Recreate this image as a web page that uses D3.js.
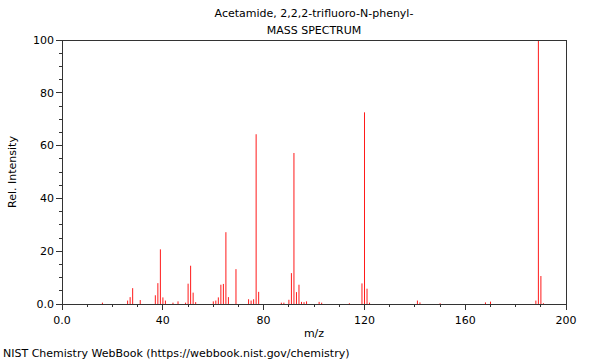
<!DOCTYPE html>
<html><head><meta charset="utf-8">
<script src="https://cdn.jsdelivr.net/npm/d3@7"></script>
<style>
body{margin:0;background:#fff;}
svg{display:block;font-family:"DejaVu Sans",sans-serif;}
</style></head>
<body>
<svg id="c" width="600" height="360"></svg>
<script>
const titleLines = ["Acetamide, 2,2,2-trifluoro-N-phenyl-", "MASS SPECTRUM"];
const xLabel = "m/z";
const yLabel = "Rel. Intensity";
const footer = "NIST Chemistry WebBook (https://webbook.nist.gov/chemistry)";
const mz =        [16, 26, 27, 28, 31, 37, 38, 39, 40, 41, 44, 46, 49, 50, 51, 52, 53, 60, 61, 62, 63, 64, 65, 66, 69, 74, 75, 76, 77, 78, 87, 88, 90, 91, 92, 93, 94, 95, 96, 97, 102, 103, 114, 119, 120, 121, 122, 141, 142, 150, 168, 170, 188, 189, 190, 191];
const intensity = [0.5,1.3,2.6,6.0,1.5,3.3,7.9,20.7,2.5,1.3,0.5,1.0,0.5,7.7,14.5,4.3,0.7,1.0,1.3,2.5,7.3,7.6,27.2,2.6,13.2,1.8,1.3,1.8,64.3,4.6,0.5,0.5,1.6,11.7,57.2,4.5,7.3,0.8,0.7,1.0,0.8,0.5,0.3,7.8,72.6,5.8,0.5,1.3,0.6,0.3,0.6,0.9,1.3,100,10.6,0.3];
const xMajorTicks = [0, 40, 80, 120, 160, 200];
const xTickLabels = ["0.0", "40", "80", "120", "160", "200"];
const yMajorTicks = [0, 20, 40, 60, 80, 100];
const yTickLabels = ["0.0", "20", "40", "60", "80", "100"];

const svg = d3.select("#c");
const L = 62, R = 566, T = 40, B = 304;
const x = d3.scaleLinear().domain([0, 200]).range([L, R]);
const y = d3.scaleLinear().domain([0, 100]).range([B, T]);
const axisColor = "#333";

// bars
svg.append("g").selectAll("line").data(mz).join("line")
  .attr("x1", d => x(d) + 0.1).attr("x2", d => x(d) + 0.1)
  .attr("y1", y(0)).attr("y2", (d, i) => y(intensity[i]))
  .attr("stroke", "#ff1a1a").attr("stroke-width", 1);

// frame
const fr = svg.append("g").attr("shape-rendering", "crispEdges");
fr.append("line").attr("x1", L).attr("x2", R).attr("y1", T).attr("y2", T).attr("stroke", axisColor);
fr.append("line").attr("x1", R).attr("x2", R).attr("y1", T).attr("y2", B).attr("stroke", axisColor);

// x axis
const xMinor = d3.range(0, 201, 10).filter(v => !xMajorTicks.includes(v));
const gx = svg.append("g").attr("transform", `translate(0,${B})`).attr("shape-rendering", "crispEdges");
gx.append("line").attr("x1", L).attr("x2", R).attr("stroke", axisColor);
gx.selectAll(".mi").data(xMinor).join("line").attr("x1", d => x(d)).attr("x2", d => x(d)).attr("y1", 0).attr("y2", 3).attr("stroke", axisColor);
gx.selectAll(".ma").data(xMajorTicks).join("line").attr("x1", d => x(d)).attr("x2", d => x(d)).attr("y1", 0).attr("y2", 6).attr("stroke", axisColor);
svg.append("g").selectAll("text").data(xMajorTicks).join("text")
  .attr("x", d => x(d)).attr("y", B + 20).attr("text-anchor", "middle")
  .attr("font-size", 11).attr("fill", "#000").text((d, i) => xTickLabels[i]);

// y axis
const yMinor = d3.range(0, 101, 5).filter(v => !yMajorTicks.includes(v));
const gy = svg.append("g").attr("transform", `translate(${L},0)`).attr("shape-rendering", "crispEdges");
gy.append("line").attr("y1", T).attr("y2", B).attr("stroke", axisColor);
gy.selectAll(".mi").data(yMinor).join("line").attr("y1", d => y(d)).attr("y2", d => y(d)).attr("x1", 0).attr("x2", -3).attr("stroke", axisColor);
gy.selectAll(".ma").data(yMajorTicks).join("line").attr("y1", d => y(d)).attr("y2", d => y(d)).attr("x1", 0).attr("x2", -6).attr("stroke", axisColor);
svg.append("g").selectAll("text").data(yMajorTicks).join("text")
  .attr("x", L - 8).attr("y", d => y(d)).attr("dy", "0.35em").attr("text-anchor", "end")
  .attr("font-size", 11).attr("fill", "#000").text((d, i) => yTickLabels[i]);

// titles
svg.append("g").selectAll("text").data(titleLines).join("text")
  .attr("x", (L + R) / 2).attr("y", (d, i) => 17 + i * 17).attr("text-anchor", "middle")
  .attr("font-size", 11).attr("fill", "#000").text(d => d);
svg.append("text").attr("x", (L + R) / 2).attr("y", 337).attr("text-anchor", "middle")
  .attr("font-size", 11).attr("fill", "#000").text(xLabel);
svg.append("text").attr("transform", `translate(16,${(T + B) / 2}) rotate(-90)`).attr("text-anchor", "middle")
  .attr("font-size", 11).attr("fill", "#000").text(yLabel);
svg.append("text").attr("x", 3).attr("y", 357).attr("font-size", 11).attr("fill", "#000").text(footer);
</script>
</body></html>
